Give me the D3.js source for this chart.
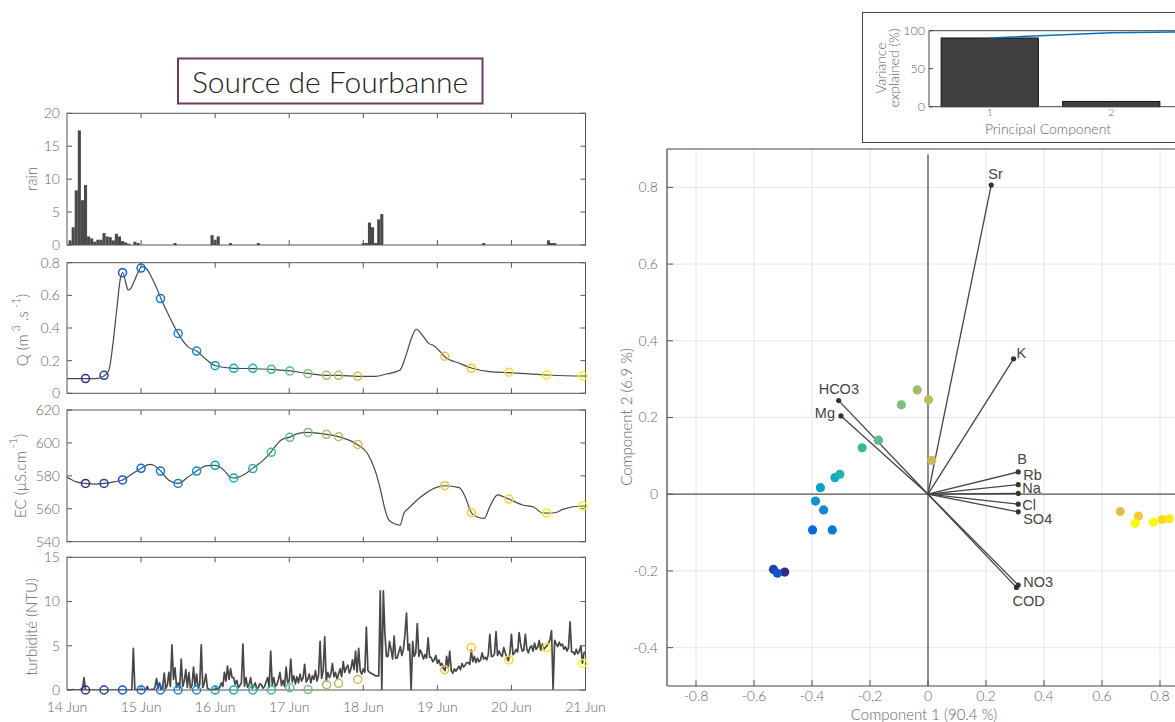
<!DOCTYPE html>
<html><head><meta charset="utf-8">
<script src="https://cdn.jsdelivr.net/npm/d3@7"></script>
<style>
body{margin:0;background:#fff}
svg{display:block}
text{font-family:Lato,'Open Sans','DejaVu Sans',sans-serif;font-weight:300}
.lab{font-family:'Liberation Sans',Arial,sans-serif;font-weight:400}
</style>
</head><body>
<svg id="c" width="1175" height="722"></svg>
<script>
// ---------------- DATA ----------------
const titleText = "Source de Fourbanne";
const dateLabels = ["14 Jun","15 Jun","16 Jun","17 Jun","18 Jun","19 Jun","20 Jun","21 Jun"];
const dateHours = [0,24,48,72,96,120,144,168];

// hourly rain (hour index from 14 Jun 00:00)
const rainHours  = [1,2,3,4,5,6,7,8,9,10,11,12,13,14,15,16,17,18,19,20,22,23,35,47,48,49,53,62,96,97,98,99,100,101,102,135,156,157,158];
const rainValues = [0.7,2.7,8.3,17.4,6.8,9.1,1.3,1.0,0.5,0.8,0.8,1.8,1.3,1.2,0.7,1.7,1.3,0.6,0.4,0.2,0.5,0.3,0.3,1.5,0.8,1.3,0.3,0.3,0.3,0.3,3.4,2.7,0.3,3.9,4.7,0.3,0.7,0.3,0.3];

// discharge Q (m3/s)
const qHours  = [0,9.3,12,13.6,14.9,16.1,17.4,18.1,19,19.8,20.7,21.7,22.9,24.2,25.7,27.3,29.1,30.4,32.9,36,39.1,42,45.3,48.1,54.2,60.3,66.3,72.2,78.1,84.1,88,94.2,99.8,103.5,107.9,109.7,111.6,113.2,114.7,117.2,119,120.9,122.4,127.1,131,137,143.2,155.4,167.1,168];
const qValues = [0.09,0.09,0.106,0.143,0.306,0.51,0.714,0.74,0.68,0.633,0.643,0.684,0.735,0.776,0.765,0.714,0.643,0.582,0.48,0.367,0.286,0.259,0.204,0.169,0.153,0.151,0.147,0.137,0.122,0.11,0.11,0.104,0.104,0.118,0.143,0.224,0.337,0.394,0.367,0.306,0.29,0.255,0.224,0.184,0.155,0.133,0.127,0.112,0.106,0.106];

// electrical conductivity (µS/cm)
const ecHours  = [0,3.1,6,9.3,12,15.5,18,21.1,24,26.7,27.9,30.4,32.9,36,39.1,42,45.3,48,50.8,52.7,54,57.7,60,63.9,66,69.4,72,75,78,84,88,94,97.3,99.8,101.6,102.8,104,105.4,107.9,109.2,110.5,114.7,119.7,122.4,127.1,129,131,132.7,135.2,137,139.5,141.4,143.2,147.6,151.3,153.8,155.4,158.1,160.6,167.1,168];
const ecValues = [579.1,576.3,575.4,575,575.4,576.5,577.5,581.1,584.6,587,586.6,582.9,577.5,575.4,579.1,582.9,586.2,586.4,583.5,579.5,578.7,581.1,584.4,590,594.3,601.8,603.4,605.8,606.4,605.2,603.8,599.1,593.7,583.5,571.4,561.3,554,551.5,550.1,557.5,560,567.3,573,574,572.8,567.3,557.6,555.2,554.2,561.3,568.4,567.3,565.9,562.3,560.9,557.6,557.4,557.6,559.6,561.7,561.7];

// turbidity (NTU), one value every half hour from 14 Jun 00:00
const turbStep = 0.5;
const turbValues = [
 0,0, 0,0, 0.05,0, 0,0, 0,0.1, 0,1.4, 0,0, 0,0, 0,0, 0,0, 0,0, 0,0,
 0,0, 0,0, 0,0, 0,0, 0,0, 0,0, 0,0, 0,0, 0,0, 0,4.7, 0,0, 0,0.1,
 0,0.1, 0,0, 0.4,0, 0,0.1, 0,0.3, 1.3,0.2, 0.8,0, 0.3,1.9, 0.2,0.5, 2.0,0.4, 5.1,1.2, 2.5,0.3,
 0.8,0.2, 3.5,0.4, 1.0,2.3, 0.3,2.0, 0.2,0.5, 2.6,0.4, 1.8,0.2, 0.6,5.1, 0.3,0.8, 1.8,0.2, 0.1,0, 0,0.1,
 0,0.2, 0.1,0.3, 0.8,0.4, 2.0,1.0, 2.7,1.2, 2.4,1.4, 1.4,0.6, 1.1,0.3, 0.5,0.8, 5.2,0.4, 1.4,0.3, 0.6,1.4,
 0.2,0.5, 0.8,0.1, 0.3,0.7, 0.6,0.2, 0.4,0.9, 1.4,0.3, 4.4,0.5, 1.4,0.4, 0.6,1.2, 2.0,0.5, 1.1,0.4, 2.6,0.8,
 1.0,3.5, 0.9,1.6, 0.7,1.5, 0.8,1.8, 1.0,1.4, 2.9,0.9, 1.2,1.8, 0.8,1.6, 1.2,2.2, 1.0,1.7, 5.5,1.3, 2.2,6.0,
 1.0,2.0, 1.4,1.8, 3.0,1.5, 2.0,1.2, 1.8,2.4, 1.5,3.2, 2.0,2.5, 2.8,1.9, 2.4,3.4, 2.3,4.4, 2.0,4.7, 2.2,1.8,
 2.4,2.0, 7.1,2.2, 2.0,1.9, 1.8,1.7, 1.6,1.6, 1.6,11.2, 0,11.2, 6.4,3.8, 3.8,5.5, 4.6,3.5, 6.1,3.6, 3.6,4.3,
 4.9,3.9, 4.6,6.3, 8.7,4.5, 5.2,0, 5.5,3.8, 4.2,7.5, 3.8,4.5, 4.1,3.5, 4.0,3.6, 5.9,3.7, 3.7,3.2, 3.4,3.9,
 3.0,3.4, 2.8,3.0, 2.4,2.2, 3.8,2.5, 4.4,2.2, 1.9,2.4, 2.1,2.4, 2.7,2.3, 3.0,2.6, 2.8,3.1, 3.1,2.9, 4.5,3.2,
 3.8,3.1, 3.6,3.2, 3.4,4.2, 3.5,3.7, 3.4,4.0, 6.3,3.8, 3.8,4.1, 6.6,3.9, 4.4,4.0, 3.8,4.8, 4.2,3.7, 3.3,4.2,
 6.3,4.0, 4.2,4.6, 4.3,6.5, 5.1,4.4, 4.5,6.3, 4.6,4.2, 4.8,5.0, 4.4,5.3, 4.6,4.8, 5.6,4.5, 5.2,4.6, 4.8,5.0,
 5.3,5.7, 6.7,0.1, 5.6,5.2, 4.9,5.4, 5.0,5.2, 4.6,4.9, 4.4,4.8, 7.7,4.3, 4.3,4.0, 4.6,4.1, 4.4,5.0, 3.0,4.2,
 4.3
];

// sampling times (hours) and sampled values
const sampleHours = [6,12,18,24,30.3,36,42,48,54,60.2,66.2,72.2,78.1,84.1,88,94.2,122.4,131,143.2,155.4,167.1];
const sampleQ    = [0.09,0.11,0.739,0.767,0.58,0.367,0.259,0.169,0.153,0.153,0.147,0.137,0.12,0.11,0.11,0.104,0.227,0.153,0.129,0.112,0.106];
const sampleEC   = [575.4,575.4,577.5,584.6,582.9,575.4,582.9,586.4,578.7,584.4,594.3,603.4,606.4,605.2,603.8,599.1,574,557.6,565.9,557.4,561.7];
const sampleTurb = [0,0,0,0,0,0,0,0,0,0,0,0.26,0.05,0.6,0.75,1.2,2.3,4.8,3.4,4.8,3.0];

// PCA scores (component 1, component 2) and sample index used for colour
const scorePC1 = [-0.494,-0.533,-0.519,-0.398,-0.330,-0.360,-0.388,-0.371,-0.321,-0.304,-0.227,-0.171,-0.092,-0.037,0.002,0.013,0.663,0.726,0.807,0.832,0.777,0.714];
const scorePC2 = [-0.203,-0.196,-0.206,-0.093,-0.093,-0.041,-0.018,0.017,0.043,0.052,0.121,0.141,0.233,0.272,0.246,0.088,-0.045,-0.057,-0.066,-0.064,-0.073,-0.076];
const scoreSample = [0,1,2,3,4,5,6,7,8,9,10,11,12,13,14,14.5,15.5,17,18,19,20,20];

// PCA loadings
const loadingNames = ["Sr","K","HCO3","Mg","B","Rb","Na","Cl","SO4","NO3","COD"];
const loadingPC1 = [0.218,0.295,-0.308,-0.300,0.311,0.311,0.311,0.311,0.311,0.311,0.305];
const loadingPC2 = [0.806,0.353,0.244,0.204,0.058,0.025,0.002,-0.026,-0.046,-0.237,-0.243];

// variance explained
const pcLabels = [1,2];
const varExplained = [90.4,6.9];
const cumComponents = [1,2,3];
const cumVariance = [90.4,97.3,98.9];

const xTicksPCA = [-0.8,-0.6,-0.4,-0.2,0,0.2,0.4,0.6,0.8];
const yTicksPCA = [-0.4,-0.2,0,0.2,0.4,0.6,0.8];

// ---------------- DRAWING ----------------
const svg = d3.select("#c");
const axisCol = "#555", txtCol = "#666", lineCol = "#474747";
const parula = d3.piecewise(d3.interpolateRgb, ["#352A87","#0363E1","#1485D4","#06A7C6","#38B99E","#92BF73","#D9BA56","#FCCE2E","#F9FB0E"]);
const sCol = i => parula(i/20);

// title box
svg.append("rect").attr("x",178).attr("y",58.5).attr("width",304.5).attr("height",45)
  .attr("fill","#fff").attr("stroke","#6e3b62").attr("stroke-width",2);
svg.append("text").attr("x",330).attr("y",93).attr("text-anchor","middle")
  .attr("font-size",30).attr("fill","#222").text(titleText);

const x = d3.scaleLinear().domain([0,168]).range([67,585.5]);
const panels = {
  rain:{top:113.3,bottom:245,domain:[0,20],ticks:[0,5,10,15,20]},
  q:{top:262.7,bottom:393.3,domain:[0,0.8],ticks:[0,0.2,0.4,0.6,0.8]},
  ec:{top:410,bottom:541.7,domain:[540,620],ticks:[540,560,580,600,620]},
  turb:{top:557.3,bottom:690,domain:[0,15],ticks:[0,5,10,15]}
};
let clipId=0;
function makePanel(p){
  const y = d3.scaleLinear().domain(p.domain).range([p.bottom,p.top]);
  const g = svg.append("g");
  const id = "clip"+(clipId++);
  svg.append("clipPath").attr("id",id).append("rect")
    .attr("x",x.range()[0]).attr("y",p.top).attr("width",x.range()[1]-x.range()[0]).attr("height",p.bottom-p.top);
  const inner = g.append("g").attr("clip-path",`url(#${id})`);
  dateHours.slice(1,-1).forEach(h=>{
    g.append("line").attr("x1",x(h)).attr("x2",x(h)).attr("y1",p.bottom).attr("y2",p.bottom-5).attr("stroke",axisCol);
    g.append("line").attr("x1",x(h)).attr("x2",x(h)).attr("y1",p.top).attr("y2",p.top+5).attr("stroke",axisCol);
  });
  p.ticks.forEach(t=>{
    g.append("line").attr("x1",x.range()[0]).attr("x2",x.range()[0]+5).attr("y1",y(t)).attr("y2",y(t)).attr("stroke",axisCol);
    g.append("line").attr("x1",x.range()[1]).attr("x2",x.range()[1]-5).attr("y1",y(t)).attr("y2",y(t)).attr("stroke",axisCol);
    g.append("text").attr("x",60).attr("y",y(t)).attr("dy","0.35em").attr("text-anchor","end")
      .attr("font-size",14).attr("fill",txtCol).text(d3.format("")(t));
  });
  g.append("rect").attr("x",x.range()[0]).attr("y",p.top).attr("width",x.range()[1]-x.range()[0])
    .attr("height",p.bottom-p.top).attr("fill","none").attr("stroke",axisCol).attr("stroke-width",1);
  return {y,inner,g};
}

// rain
{
  const P = makePanel(panels.rain);
  P.inner.selectAll("rect.bar").data(rainHours).join("rect").attr("class","bar")
    .attr("x",h=>x(h-0.5)).attr("width",h=>x(h+0.5)-x(h-0.5))
    .attr("y",(h,i)=>P.y(rainValues[i])).attr("height",(h,i)=>P.y(0)-P.y(rainValues[i]))
    .attr("fill","#4a4a4a");
  svg.append("text").attr("transform","translate(37,179) rotate(-90)").attr("text-anchor","middle")
    .attr("font-size",15).attr("fill",txtCol).text("rain");
}
// Q
{
  const P = makePanel(panels.q);
  const line = d3.line().x(d=>x(d[0])).y(d=>P.y(d[1])).curve(d3.curveMonotoneX);
  P.inner.append("path").attr("d",line(qHours.map((h,i)=>[h,qValues[i]])))
    .attr("fill","none").attr("stroke",lineCol).attr("stroke-width",1.2);
  P.g.selectAll("circle").data(sampleHours).join("circle")
    .attr("cx",h=>x(h)).attr("cy",(h,i)=>P.y(sampleQ[i])).attr("r",4)
    .attr("fill","none").attr("stroke",(h,i)=>sCol(i)).attr("stroke-width",1.5);
  const t = svg.append("text").attr("transform","translate(28,330) rotate(-90)").attr("text-anchor","middle")
    .attr("font-size",15).attr("fill",txtCol);
  t.append("tspan").text("Q (m");
  t.append("tspan").attr("dy",-8).attr("font-size",11).text(" 3");
  t.append("tspan").attr("dy",8).text(" .s");
  t.append("tspan").attr("dy",-8).attr("font-size",11).text(" -1");
  t.append("tspan").attr("dy",8).text(")");
}
// EC
{
  const P = makePanel(panels.ec);
  const line = d3.line().x(d=>x(d[0])).y(d=>P.y(d[1])).curve(d3.curveMonotoneX);
  P.inner.append("path").attr("d",line(ecHours.map((h,i)=>[h,ecValues[i]])))
    .attr("fill","none").attr("stroke",lineCol).attr("stroke-width",1.2);
  P.g.selectAll("circle").data(sampleHours).join("circle")
    .attr("cx",h=>x(h)).attr("cy",(h,i)=>P.y(sampleEC[i])).attr("r",4)
    .attr("fill","none").attr("stroke",(h,i)=>sCol(i)).attr("stroke-width",1.5);
  const t = svg.append("text").attr("transform","translate(26,476) rotate(-90)").attr("text-anchor","middle")
    .attr("font-size",15).attr("fill",txtCol);
  t.append("tspan").text("EC (µS.cm");
  t.append("tspan").attr("dy",-9).attr("font-size",11).text("  -1");
  t.append("tspan").attr("dy",9).text(")");
}
// turbidity
{
  const P = makePanel(panels.turb);
  const line = d3.line().x((d,i)=>x(i*turbStep)).y(d=>P.y(d));
  P.inner.append("path").attr("d",line(turbValues))
    .attr("fill","none").attr("stroke",lineCol).attr("stroke-width",1.7).attr("stroke-linejoin","round");
  P.g.selectAll("circle").data(sampleHours).join("circle")
    .attr("cx",h=>x(h)).attr("cy",(h,i)=>P.y(sampleTurb[i])).attr("r",4)
    .attr("fill","none").attr("stroke",(h,i)=>sCol(i)).attr("stroke-width",1.5);
  svg.append("text").attr("transform","translate(37,627) rotate(-90)").attr("text-anchor","middle")
    .attr("font-size",15).attr("fill",txtCol).text("turbidité (NTU)");
  dateHours.forEach((h,i)=>{
    svg.append("text").attr("x",x(h)).attr("y",712).attr("text-anchor","middle")
      .attr("font-size",14).attr("fill",txtCol).text(dateLabels[i]);
  });
}

// ---------------- PCA biplot ----------------
const px = d3.scaleLinear().domain([-0.9,0.9]).range([667,1189]);
const py = d3.scaleLinear().domain([-0.5,0.9]).range([686,149]);
const pg = svg.append("g");
xTicksPCA.forEach(t=>{
  pg.append("line").attr("x1",px(t)).attr("x2",px(t)).attr("y1",py(0.9)).attr("y2",py(-0.5)).attr("stroke","#e6e6e6");
});
yTicksPCA.forEach(t=>{
  pg.append("line").attr("x1",px(-0.9)).attr("x2",px(0.9)).attr("y1",py(t)).attr("y2",py(t)).attr("stroke","#e6e6e6");
});
xTicksPCA.forEach(t=>{
  pg.append("line").attr("x1",px(t)).attr("x2",px(t)).attr("y1",py(-0.5)).attr("y2",py(-0.5)-6).attr("stroke",axisCol);
  pg.append("text").attr("x",px(t)).attr("y",701).attr("text-anchor","middle").attr("font-size",14)
    .attr("fill",txtCol).text(d3.format("")(t).replace("−","-"));
});
yTicksPCA.forEach(t=>{
  pg.append("line").attr("x1",px(-0.9)).attr("x2",px(-0.9)+6).attr("y1",py(t)).attr("y2",py(t)).attr("stroke",axisCol);
  pg.append("text").attr("x",658).attr("y",py(t)).attr("dy","0.35em").attr("text-anchor","end").attr("font-size",14)
    .attr("fill",txtCol).text(d3.format("")(t).replace("−","-"));
});
pg.append("line").attr("x1",px(-0.9)).attr("x2",px(-0.9)).attr("y1",py(0.9)).attr("y2",py(-0.5)).attr("stroke","#444").attr("stroke-width",1.2);
pg.append("line").attr("x1",px(-0.9)).attr("x2",px(0.9)).attr("y1",py(-0.5)).attr("y2",py(-0.5)).attr("stroke","#444").attr("stroke-width",1.2);
pg.append("line").attr("x1",px(-0.9)).attr("x2",px(0.9)).attr("y1",py(0.9)).attr("y2",py(0.9)).attr("stroke","#444").attr("stroke-width",1.2);
pg.append("line").attr("x1",px(-0.9)).attr("x2",px(0.9)).attr("y1",py(0)).attr("y2",py(0)).attr("stroke","#555").attr("stroke-width",1.3);
pg.append("line").attr("x1",px(0)).attr("x2",px(0)).attr("y1",py(0.885)).attr("y2",py(-0.5)).attr("stroke","#555").attr("stroke-width",1.3);
svg.append("text").attr("x",924).attr("y",720).attr("text-anchor","middle").attr("font-size",15)
  .attr("fill",txtCol).text("Component 1 (90.4 %)");
svg.append("text").attr("transform","translate(632,417) rotate(-90)").attr("text-anchor","middle").attr("font-size",15)
  .attr("fill",txtCol).text("Component 2 (6.9 %)");
const labelOffsets = {Sr:[-3,-6,"start"],K:[3,-1,"start"],HCO3:[-20,-7,"start"],Mg:[-6,2,"end"],
  B:[-1,-8,"start"],Rb:[5,-5,"start"],Na:[4,0,"start"],Cl:[4,6,"start"],SO4:[5,12,"start"],NO3:[5,2,"start"],COD:[-4,19,"start"]};
loadingNames.forEach((n,i)=>{
  pg.append("line").attr("x1",px(0)).attr("y1",py(0)).attr("x2",px(loadingPC1[i])).attr("y2",py(loadingPC2[i]))
    .attr("stroke","#444").attr("stroke-width",1.3);
});
loadingNames.forEach((n,i)=>{
  pg.append("circle").attr("cx",px(loadingPC1[i])).attr("cy",py(loadingPC2[i])).attr("r",2.6).attr("fill","#333");
  const o = labelOffsets[n];
  pg.append("text").attr("class","lab").attr("x",px(loadingPC1[i])+o[0]).attr("y",py(loadingPC2[i])+o[1])
    .attr("text-anchor",o[2]).attr("font-size",14.5).attr("fill","#444").text(n);
});
pg.selectAll("circle.score").data(scorePC1).join("circle").attr("class","score")
  .attr("cx",d=>px(d)).attr("cy",(d,i)=>py(scorePC2[i])).attr("r",4.6)
  .attr("fill",(d,i)=>sCol(scoreSample[i]));

// ---------------- inset: variance explained ----------------
const ig = svg.append("g");
ig.append("rect").attr("x",862.5).attr("y",12.5).attr("width",340).attr("height",130)
  .attr("fill","#fff").attr("stroke","#444").attr("stroke-width",1);
const ix = d3.scaleLinear().domain([0.5,2.5]).range([929,1172]);
const iy = d3.scaleLinear().domain([0,100]).range([106.7,30.7]);
const bw = (ix(2)-ix(1))*0.8;
ig.selectAll("rect.vb").data(pcLabels).join("rect").attr("class","vb")
  .attr("x",d=>ix(d)-bw/2).attr("width",bw).attr("y",(d,i)=>iy(varExplained[i]))
  .attr("height",(d,i)=>iy(0)-iy(varExplained[i])).attr("fill","#404040").attr("stroke","#111").attr("stroke-width",1);
ig.append("path").attr("d",d3.line().x(d=>ix(d)).y((d,i)=>iy(cumVariance[i]))(cumComponents))
  .attr("fill","none").attr("stroke","#0072bd").attr("stroke-width",1.5);
ig.append("line").attr("x1",ix(0.5)).attr("x2",ix(0.5)).attr("y1",iy(100)).attr("y2",iy(0)).attr("stroke","#444");
ig.append("line").attr("x1",ix(0.5)).attr("x2",1200).attr("y1",iy(0)).attr("y2",iy(0)).attr("stroke","#444");
ig.append("line").attr("x1",ix(0.5)).attr("x2",1200).attr("y1",iy(100)).attr("y2",iy(100)).attr("stroke","#444");
[0,50,100].forEach(t=>{
  ig.append("line").attr("x1",ix(0.5)).attr("x2",ix(0.5)+4).attr("y1",iy(t)).attr("y2",iy(t)).attr("stroke","#444");
  ig.append("text").attr("x",925).attr("y",iy(t)).attr("dy","0.35em").attr("text-anchor","end")
    .attr("font-size",12.5).attr("fill",txtCol).text(t);
});
pcLabels.forEach(d=>{
  ig.append("line").attr("x1",ix(d)).attr("x2",ix(d)).attr("y1",iy(0)).attr("y2",iy(0)-4).attr("stroke","#444");
  ig.append("text").attr("x",ix(d)).attr("y",116).attr("text-anchor","middle").attr("font-size",10.5).attr("fill",txtCol).text(d);
});
ig.append("text").attr("x",1048).attr("y",134).attr("text-anchor","middle").attr("font-size",14).attr("fill",txtCol).text("Principal Component");
ig.append("text").attr("transform","translate(886,68) rotate(-90)").attr("text-anchor","middle").attr("font-size",14).attr("fill",txtCol).text("Variance");
ig.append("text").attr("transform","translate(899,68) rotate(-90)").attr("text-anchor","middle").attr("font-size",14).attr("fill",txtCol).text("explained (%)");
</script>
</body></html>
